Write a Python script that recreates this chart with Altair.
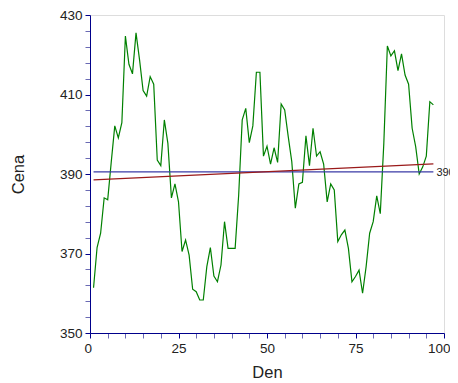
import altair as alt
import pandas as pd

days = list(range(1, 98))
prices = [361.4, 371.5, 375.1, 384.0, 383.5, 393.0, 402.1, 399.1, 402.9, 424.7,
          417.6, 415.2, 425.5, 418.7, 411.0, 409.6, 414.5, 412.6, 393.5, 392.1,
          403.6, 397.7, 384.0, 387.5, 383.0, 370.5, 373.4, 369.6, 361.0, 360.4,
          358.3, 358.3, 366.7, 371.5, 364.3, 362.9, 367.1, 378.0, 371.3, 371.3,
          371.3, 384.7, 403.6, 406.5, 397.9, 402.1, 415.6, 415.6, 394.5, 397.0,
          392.5, 396.6, 392.9, 407.6, 406.1, 399.4, 393.1, 381.4, 387.5, 387.9,
          399.6, 392.1, 401.5, 394.5, 395.6, 392.5, 383.0, 387.5, 386.0, 373.0,
          374.7, 375.9, 371.3, 362.9, 364.2, 365.8, 360.0, 366.7, 375.1, 378.0,
          384.5, 380.0, 397.7, 422.2, 419.7, 421.0, 416.0, 420.2, 414.9, 412.6,
          401.5, 396.9, 390.0, 391.8, 394.5, 408.2, 407.4]
x_ticks = list(range(0, 101, 5))
y_ticks = list(range(350, 431, 4))
mean_label = ["390"]

df = pd.DataFrame({"x": days, "y": prices})

AXIS_BLUE = "#00008b"
MINOR_BLUE = "#6a6ab4"
FONT = "Liberation Sans"

xaxis = alt.Axis(
    values=x_ticks,
    labelExpr="datum.value % 25 === 0 ? datum.label : ''",
    tickColor={"condition": {"test": "datum.value % 25 === 0", "value": AXIS_BLUE}, "value": MINOR_BLUE},
    tickSize=5, domainColor=AXIS_BLUE, grid=False,
    labelFont=FONT, labelFontSize=13.5, labelColor="#222222", labelPadding=3,
    labelFlush=True, labelFlushOffset=6, labelOverlap=False,
    titleFont=FONT, titleFontSize=16.5, titleFontWeight="normal", titleColor="#222222",
    titlePadding=10,
)
yaxis = alt.Axis(
    values=y_ticks,
    labelExpr="(datum.value - 350) % 20 === 0 ? datum.label : ''",
    tickColor={"condition": {"test": "(datum.value - 350) % 20 === 0", "value": AXIS_BLUE}, "value": MINOR_BLUE},
    tickSize=5, domainColor=AXIS_BLUE, grid=False,
    labelFont=FONT, labelFontSize=13.5, labelColor="#222222", labelPadding=3,
    labelFlush=False, labelOverlap=False,
    titleFont=FONT, titleFontSize=16.5, titleFontWeight="normal", titleColor="#222222",
    titlePadding=33,
)

xs = alt.Scale(domain=[0, 100], nice=False, zero=False)
ys = alt.Scale(domain=[350, 430], nice=False, zero=False)

base = alt.Chart(df)

line = base.mark_line(color="#008000", strokeWidth=1.2).encode(
    x=alt.X("x:Q", scale=xs, axis=xaxis, title="Den"),
    y=alt.Y("y:Q", scale=ys, axis=yaxis, title="Cena"),
)

mean_rule = base.mark_rule(color="#3a3aa6", strokeWidth=1.3).encode(
    x=alt.X("min(x):Q", scale=xs, axis=xaxis, title="Den"),
    x2="max(x):Q",
    y=alt.Y("mean(y):Q", scale=ys, axis=yaxis, title="Cena"),
)

trend = base.transform_regression("x", "y").mark_line(color="#9a1a1a", strokeWidth=1.3).encode(
    x=alt.X("x:Q", scale=xs, axis=xaxis, title="Den"),
    y=alt.Y("y:Q", scale=ys, axis=yaxis, title="Cena"),
)

label_df = pd.DataFrame({"x": [max(days)], "y": [sum(prices) / len(prices)], "t": mean_label})
label = alt.Chart(label_df).mark_text(
    align="left", baseline="middle", dx=3, dy=1, font=FONT, fontSize=11, color="#222222"
).encode(
    x=alt.X("x:Q", scale=xs, axis=xaxis, title="Den"),
    y=alt.Y("y:Q", scale=ys, axis=yaxis, title="Cena"),
    text="t:N",
)

chart = alt.layer(line, mean_rule, trend, label).properties(
    width=354, height=318,
    autosize=alt.AutoSizeParams(type="none"),
    padding={"left": 82, "top": 7, "right": 6, "bottom": 52},
).configure_view(stroke=None).configure(background="white")

chart.save("out.html", embed_options={"renderer": "svg", "actions": False})
